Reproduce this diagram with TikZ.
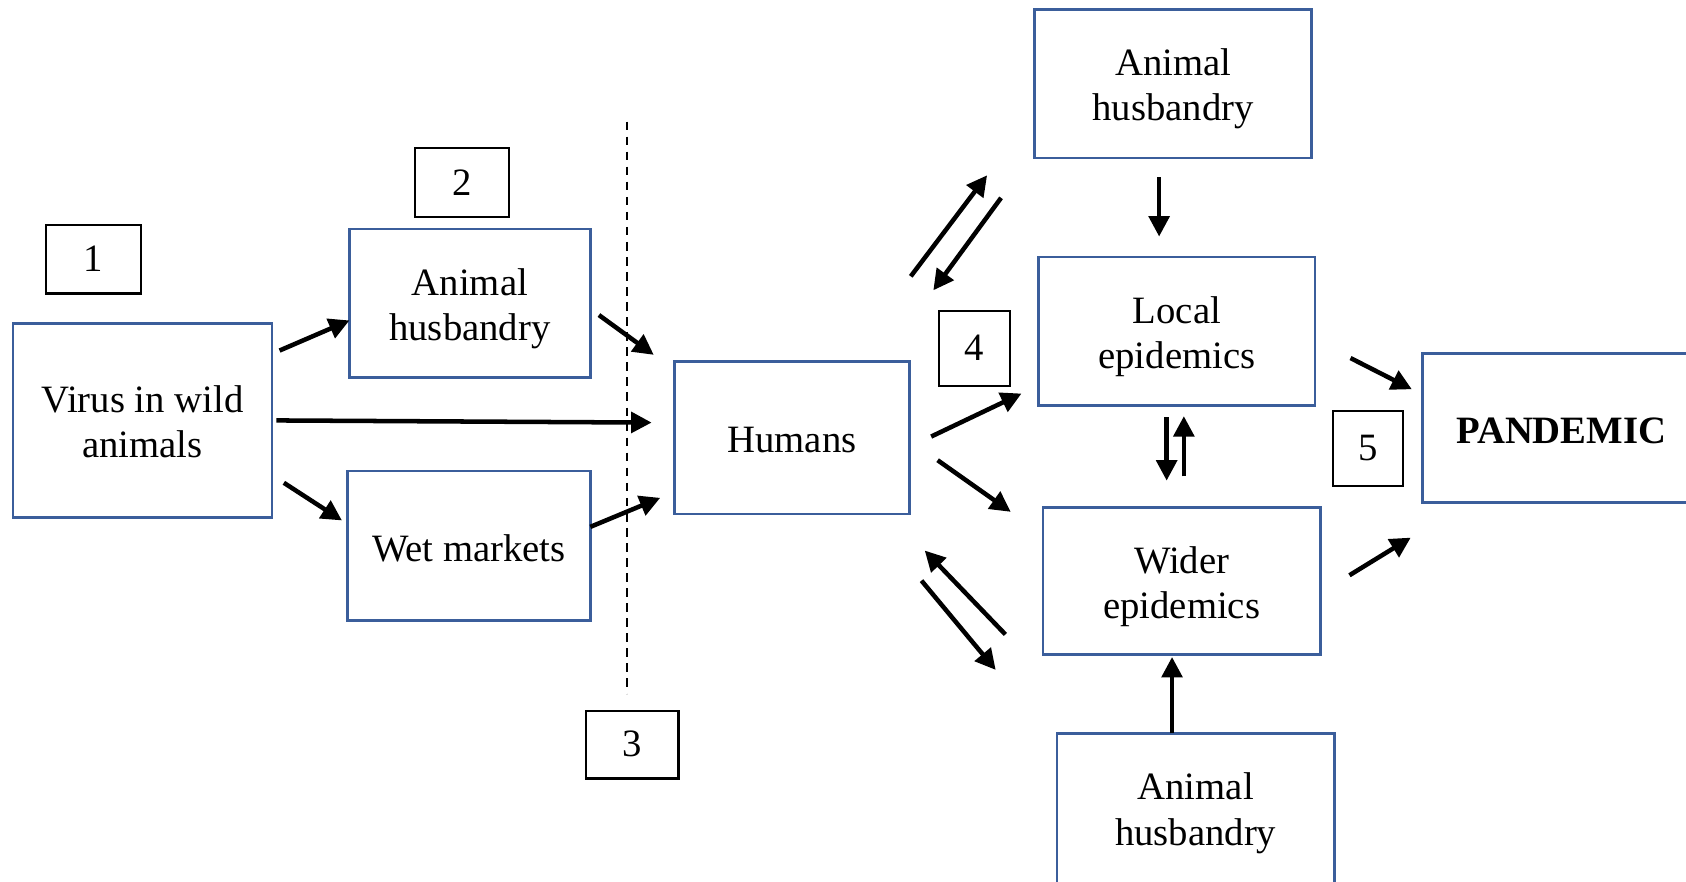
\documentclass[tikz,border=0pt]{standalone}
\usepackage{fontspec}
\setmainfont{Liberation Serif}
\usetikzlibrary{arrows.meta}
\definecolor{boxblue}{RGB}{59,94,155}
\newcommand\boxtext[2][5.5pt]{\raisebox{-#1}[\height][\depth]{\begin{tabular}{@{}c@{}}#2\end{tabular}}}
\tikzset{
  bluebox/.style={draw=boxblue, line width=2.6pt, rectangle, inner sep=0pt, align=center,
    font=\fontsize{36}{42}\selectfont},
  numbox/.style={draw=black, line width=2pt, rectangle, inner sep=0pt, align=center,
    font=\fontsize{36}{42}\selectfont},
  arr/.style={line width=4.2pt, -{Triangle[length=19pt,width=19pt]}},
  divider/.style={line width=2pt, dash pattern=on 8pt off 6pt}
}
\begin{document}
\begin{tikzpicture}[x=1pt,y=-1pt]
\useasboundingbox (0,0) rectangle (1568,820);
\clip (0,0) rectangle (1568,820);
\fill[white] (0,0) rectangle (1568,820);

% boxes
\node[bluebox, minimum width=241pt, minimum height=180pt] (virus) at (132.5,391) {\boxtext{Virus in wild\\animals}};
\node[numbox, minimum width=88pt, minimum height=64pt] (n1) at (87,241) {\boxtext[3pt]{1}};
\node[numbox, minimum width=87pt, minimum height=64pt] (n2) at (429.5,170) {\boxtext[3pt]{2}};
\node[bluebox, minimum width=224pt, minimum height=138pt] (ahL) at (437,282) {\boxtext{Animal\\husbandry}};
\node[bluebox, minimum width=226pt, minimum height=139pt] (wet) at (436,507.5) {\boxtext[6.5pt]{Wet markets}};
\node[numbox, minimum width=86pt, minimum height=63pt] (n3) at (588,692.5) {\boxtext[3pt]{3}};
\node[bluebox, minimum width=219pt, minimum height=142pt] (humans) at (736.5,407) {\boxtext{Humans}};
\node[numbox, minimum width=66pt, minimum height=70pt] (n4) at (906,324) {\boxtext[3pt]{4}};
\node[bluebox, minimum width=258pt, minimum height=138pt] (ahT) at (1091,78) {\boxtext[4.5pt]{Animal\\husbandry}};
\node[bluebox, minimum width=257pt, minimum height=138pt] (local) at (1094.5,308) {\boxtext{Local\\epidemics}};
\node[bluebox, minimum width=258pt, minimum height=137pt] (wider) at (1099,540.5) {\boxtext{Wider\\epidemics}};
\node[bluebox, minimum width=258pt, minimum height=140pt] (ahB) at (1112,752) {\boxtext[4.5pt]{Animal\\husbandry}};
\node[numbox, minimum width=65pt, minimum height=70pt] (n5) at (1272.5,417) {\boxtext[3pt]{5}};
\node[bluebox, minimum width=258pt, minimum height=138pt, font=\fontsize{36}{42}\selectfont\bfseries] (pand) at (1452,398) {\boxtext[6.5pt]{PANDEMIC}};

% dashed divider
\coordinate (dTop) at (583,113);
\coordinate (dBot) at (583,645);
\draw[divider] (dTop) -- (dBot);

% arrow end points
\coordinate (a1s) at (260,326);  \coordinate (a1e) at (325,298);
\coordinate (a2s) at (257,391);  \coordinate (a2e) at (606,393);
\coordinate (a3s) at (264,449);  \coordinate (a3e) at (318,484);
\coordinate (a4s) at (557,293);  \coordinate (a4e) at (608,330);
\coordinate (a5s) at (549,490);  \coordinate (a5e) at (614,463);
\coordinate (a6s) at (847,257);  \coordinate (a6e) at (918,163);
\coordinate (a6bs) at (931,184); \coordinate (a6be) at (868,270);
\coordinate (a7s) at (866,406);  \coordinate (a7e) at (950,366);
\coordinate (a8s) at (872,428);  \coordinate (a8e) at (940,476);
\coordinate (a9s) at (935,590);  \coordinate (a9e) at (860,512);
\coordinate (a9bs) at (857,540); \coordinate (a9be) at (926,623);
\coordinate (a10s) at (1078,165); \coordinate (a10e) at (1078,220);
\coordinate (a11s) at (1085,388); \coordinate (a11e) at (1085,447);
\coordinate (a11bs) at (1101,443); \coordinate (a11be) at (1101,387);
\coordinate (a12s) at (1090,682); \coordinate (a12e) at (1090,611);
\coordinate (a13s) at (1256,333); \coordinate (a13e) at (1313,362);
\coordinate (a14s) at (1255,535); \coordinate (a14e) at (1312,500);

\draw[arr] (a1s) -- (a1e);
\draw[arr] (a2s) -- (a2e);
\draw[arr] (a3s) -- (a3e);
\draw[arr] (a4s) -- (a4e);
\draw[arr] (a5s) -- (a5e);
\draw[arr] (a6s) -- (a6e);
\draw[arr] (a6bs) -- (a6be);
\draw[arr] (a7s) -- (a7e);
\draw[arr] (a8s) -- (a8e);
\draw[arr] (a9s) -- (a9e);
\draw[arr] (a9bs) -- (a9be);
\draw[arr] (a10s) -- (a10e);
\draw[arr] (a11s) -- (a11e);
\draw[arr] (a11bs) -- (a11be);
\draw[arr] (a12s) -- (a12e);
\draw[arr] (a13s) -- (a13e);
\draw[arr] (a14s) -- (a14e);
\end{tikzpicture}
\end{document}
